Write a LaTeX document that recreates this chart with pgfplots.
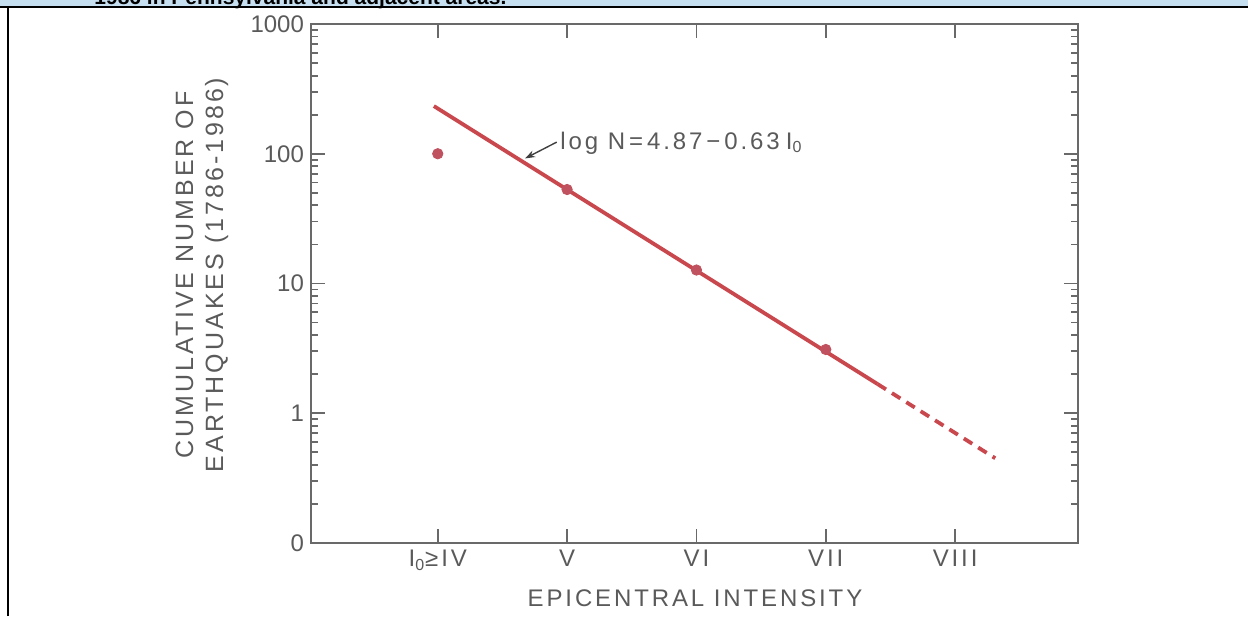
\documentclass[border=0pt]{standalone}
\usepackage{fontspec}
\setmainfont{Liberation Sans}
\newfontfamily\lsfont{Liberation Sans}[LetterSpace=12]
\usepackage{pgfplots}
\pgfplotsset{compat=1.18}
\usetikzlibrary{arrows.meta}
\definecolor{fitred}{RGB}{200,72,78}
\definecolor{ptred}{RGB}{192,82,96}
\definecolor{axgray}{RGB}{105,105,105}
\definecolor{txtgray}{RGB}{90,90,90}
\definecolor{bandblue}{RGB}{197,223,240}
\begin{document}
\begin{tikzpicture}
\useasboundingbox (0,0) rectangle (624pt,308pt);
% top band
\fill[bandblue] (0,304.5pt) rectangle (624pt,308pt);
\node[anchor=base west, inner sep=0pt, font=\bfseries\fontsize{10.5}{12}\selectfont] at (47pt,305.6pt) {1986 in Pennsylvania and adjacent areas.};
\draw[black, line width=1pt] (0,304.5pt) -- (624pt,304.5pt);
\draw[black, line width=1pt] (4pt,0) -- (4pt,304.5pt);
\begin{axis}[
  at={(155.5pt,36.5pt)}, anchor=south west,
  width=383.5pt, height=259.5pt, scale only axis,
  ymode=log, ymin=0.1, ymax=1000, xmin=3.02, xmax=8.95,
  xtick={4,5,6,7,8},
  xticklabels={I\textsubscript{0}≥IV, V, VI, VII, VIII},
  ytick={0.1,1,10,100,1000},
  yticklabels={0,1,10,100,1000},
  axis line style={axgray, line width=1.1pt},
  tick style={axgray, line width=0.9pt},
  major tick length=7pt, minor tick length=3.5pt,
  tick label style={font=\fontsize{12}{14}\selectfont, text=txtgray},
  xticklabel style={font=\lsfont\fontsize{12}{14}\selectfont},
  clip=false,
]
\addplot[fitred, line width=1.9pt] coordinates {(3.97,233) (7.4,1.68)};
\addplot[fitred, line width=1.9pt, dash pattern=on 5pt off 3.5pt] coordinates {(7.4,1.68) (8.31,0.45)};
\addplot[only marks, mark=*, mark size=2.6pt, ptred] coordinates {(4,100) (5,53) (6,12.7) (7,3.1)};
\draw[-{Stealth[length=5pt,width=3.5pt]}, black!75, line width=0.7pt] (axis cs:4.92,123) -- (axis cs:4.675,92);
\node[anchor=west, inner sep=1pt, text=txtgray, font=\lsfont\fontsize{12}{14}\selectfont] at (axis cs:4.93,121) {log N\hspace{2pt}=\hspace{2pt}4.87\hspace{2pt}−\hspace{2pt}0.63\hspace{3pt}I\textsubscript{0}};
\end{axis}
\node[text=txtgray, font=\lsfont\fontsize{12}{14}\selectfont] at (347.5pt,9pt) {EPICENTRAL INTENSITY};
\node[rotate=90, align=center, text=txtgray, font=\lsfont\fontsize{12.5}{15}\selectfont] at (101pt,170.5pt) {CUMULATIVE NUMBER OF\\EARTHQUAKES (1786-1986)};
\end{tikzpicture}
\end{document}
